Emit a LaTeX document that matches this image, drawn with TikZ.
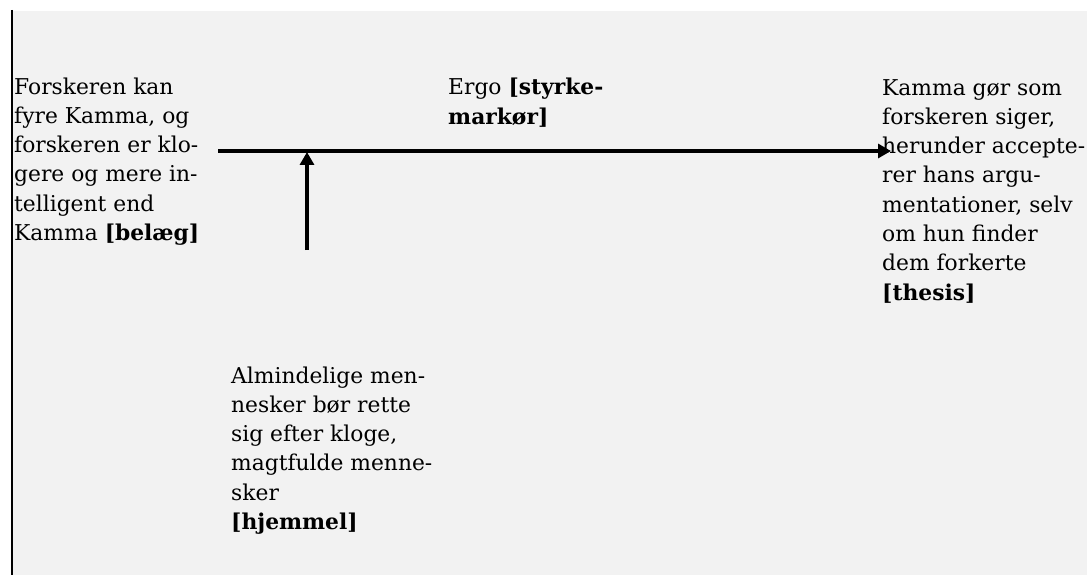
\documentclass[tikz,border=0pt]{standalone}
\usepackage{fontspec}
\setmainfont{DejaVu Serif}
\usetikzlibrary{arrows.meta}
\definecolor{bgGrey}{HTML}{F2F2F2}
\begin{document}
\begin{tikzpicture}[x=1pt,y=-1pt,
  txt/.style={anchor=base west, align=left, inner sep=0pt, font=\fontsize{21.8}{29.3}\selectfont},
  conn/.style={line width=3.2pt, -{Triangle[width=14pt,length=13pt]}}]
\useasboundingbox (0,0) rectangle (1087,575);
\fill[bgGrey] (13,11) rectangle (1087,575);
\draw[line width=2.5pt] (12,10) -- (12,575);
% anchors are at the baseline of each text's last line
\node[txt] (belaeg) at (14,240.5) {Forskeren kan\\fyre Kamma, og\\forskeren er klo-\\gere og mere in-\\telligent end\\Kamma \textbf{[belæg]}};
\node[txt] (ergo) at (448,124.3) {Ergo \textbf{[styrke-}\\\textbf{markør]}};
\node[txt] (thesis) at (882,300.1) {Kamma gør som\\forskeren siger,\\herunder accepte-\\rer hans argu-\\mentationer, selv\\om hun finder\\dem forkerte\\\textbf{[thesis]}};
\node[txt] (hjemmel) at (231,529.5) {Almindelige men-\\nesker bør rette\\sig efter kloge,\\magtfulde menne-\\sker\\\textbf{[hjemmel]}};
\coordinate (hs) at (218,151);
\coordinate (he) at (891,151);
\coordinate (vs) at (307,250);
\coordinate (ve) at (307,152);
\draw[conn] (hs) -- (he);
\draw[conn] (vs) -- (ve);
\end{tikzpicture}
\end{document}
